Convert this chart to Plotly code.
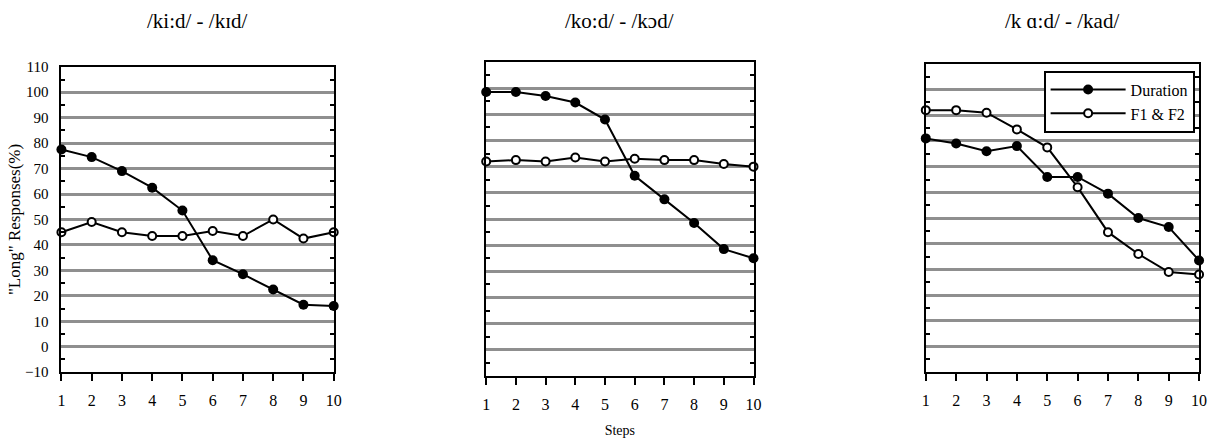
import plotly.graph_objects as go

steps = [1, 2, 3, 4, 5, 6, 7, 8, 9, 10]
panel_titles = ["/ki:d/ - /kɪd/", "/ko:d/ - /kɔd/", "/k ɑ:d/ - /kad/"]
series_names = ["Duration", "F1 & F2"]

ki_duration = [77.5, 74.5, 69, 62.5, 53.5, 34, 28.5, 22.5, 16.5, 16]
ki_f1f2 = [45, 49, 45, 43.5, 43.5, 45.5, 43.5, 50, 42.5, 45]
ko_duration = [98.5, 98.5, 97, 94.5, 88, 66.5, 57.5, 48.5, 38.5, 35]
ko_f1f2 = [72, 72.5, 72, 73.5, 72, 73, 72.5, 72.5, 71, 70]
ka_duration = [81, 79, 76, 78, 66, 66, 59.5, 50, 46.5, 33.5]
ka_f1f2 = [92, 92, 91, 84.5, 77.5, 62, 44.5, 36, 29, 28]

y_ticks = [-10, 0, 10, 20, 30, 40, 50, 60, 70, 80, 90, 100, 110]

W, H = 1213, 438
FONT = "Liberation Serif, Times New Roman, serif"

# pixel geometry of the three plot areas (left, right, top, bottom)
boxes = [(58, 333, 61, 378), (487, 757, 56, 382), (931, 1207, 58, 378)]
data = [(ki_duration, ki_f1f2), (ko_duration, ko_f1f2), (ka_duration, ka_f1f2)]

fig = go.Figure()

for i, ((dur, f12), (l, r, t, b)) in enumerate(zip(data, boxes)):
    n = "" if i == 0 else str(i + 1)
    xa, ya = "x" + n, "y" + n
    show = (i == 2)
    fig.add_trace(go.Scatter(
        x=steps, y=dur, mode="lines+markers", name=series_names[0],
        xaxis=xa, yaxis=ya, showlegend=show, legendgroup="d",
        line=dict(color="black", width=2),
        marker=dict(symbol="circle", size=10, color="black"),
        cliponaxis=False))
    fig.add_trace(go.Scatter(
        x=steps, y=f12, mode="lines+markers", name=series_names[1],
        xaxis=xa, yaxis=ya, showlegend=show, legendgroup="f",
        line=dict(color="black", width=2),
        marker=dict(symbol="circle", size=8, color="white",
                    line=dict(color="black", width=2)),
        cliponaxis=False))

    xaxis = dict(
        domain=[l / W, r / W], anchor=ya, range=[1, 10],
        tickvals=steps, ticks="outside", ticklen=7, tickwidth=2,
        tickcolor="black", showline=True, linewidth=2, linecolor="black",
        mirror=True, showgrid=False, zeroline=False, ticklabelstandoff=6,
        tickfont=dict(family=FONT, size=16, color="black"))
    if i == 1:
        xaxis["title"] = dict(text="Steps", font=dict(family=FONT, size=14, color="black"),
                              standoff=14)
    yaxis = dict(
        domain=[1 - b / H, 1 - t / H], anchor=xa, range=[-10, 110],
        tickvals=y_ticks, ticks="", showticklabels=(i == 0),
        showline=True, linewidth=2, linecolor="black", mirror="ticks",
        showgrid=True, gridcolor="#8f8f8f", gridwidth=2.5, zeroline=False,
        ticklabelstandoff=8,
        tickfont=dict(family=FONT, size=15, color="black"),
        minor=dict(tick0=-5, dtick=10, ticks="inside", ticklen=4,
                   tickwidth=2, tickcolor="black", showgrid=False))
    if i == 0:
        yaxis["title"] = dict(text='"Long" Responses(%)',
                              font=dict(family=FONT, size=17, color="black"),
                              standoff=0)
    fig.update_layout(**{"xaxis" + n: xaxis, "yaxis" + n: yaxis})

    fig.add_annotation(text=panel_titles[i], x=(l + r) / 2 / W, y=1 - 14 / H,
                       xref="paper", yref="paper", showarrow=False,
                       font=dict(family=FONT, size=21, color="black"),
                       xanchor="center", yanchor="middle")

fig.update_layout(
    width=W, height=H, margin=dict(l=0, r=0, t=0, b=0),
    paper_bgcolor="white", plot_bgcolor="white",
    legend=dict(x=1050 / W, y=1 - 65 / H, xanchor="left", yanchor="top",
                bordercolor="black", borderwidth=2, bgcolor="white",
                font=dict(family=FONT, size=16, color="black"),
                itemwidth=75, tracegroupgap=0),
)

fig.write_html("out.html", config={"displayModeBar": False},
               post_script="document.body.style.margin='0';")
